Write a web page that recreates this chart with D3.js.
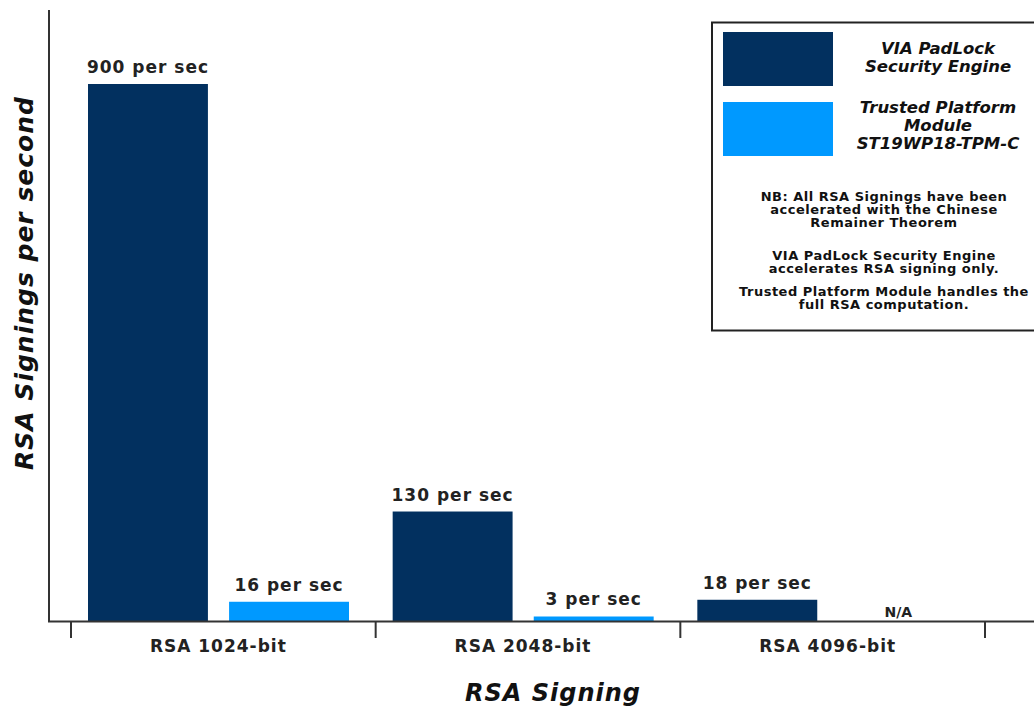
<!DOCTYPE html>
<html>
<head>
<meta charset="utf-8">
<script src="https://cdn.jsdelivr.net/npm/d3@7"></script>
<style>
  html, body { margin: 0; padding: 0; background: #fff; overflow: hidden; }
  svg { display: block; }
  text { font-family: "DejaVu Sans", Verdana, sans-serif; }
</style>
</head>
<body>
<svg id="chart" width="1034" height="706"></svg>
<script>
// ---- data ----
const categories = ["RSA 1024-bit", "RSA 2048-bit", "RSA 4096-bit"];
const seriesNames = ["VIA PadLock Security Engine", "Trusted Platform Module ST19WP18-TPM-C"];
const viaValues = [900, 130, 18];
const tpmValues = [16, 3, null];
const valueLabels = [["900 per sec", "16 per sec"], ["130 per sec", "3 per sec"], ["18 per sec", "N/A"]];
const legendLines = [["VIA PadLock", "Security Engine"], ["Trusted Platform", "Module", "ST19WP18-TPM-C"]];
const noteLines = [
  ["NB: All RSA Signings have been", "accelerated with the Chinese", "Remainer Theorem"],
  ["VIA PadLock Security Engine", "accelerates RSA signing only."],
  ["Trusted Platform Module handles the", "full RSA computation."]
];
const xTitle = "RSA Signing";
const yTitle = "RSA Signings per second";
const colors = ["#02305f", "#0099ff"];

// ---- layout ----
const svg = d3.select("#chart");
const baseY = 621.5, axisX = 49;

const x0 = d3.scaleBand().domain(categories).range([71, 985]).padding(0);
const x1 = d3.scaleBand().domain(seriesNames).range([17, 278])
  .paddingInner(0.15).paddingOuter(0);
const y = d3.scalePow().exponent(0.82).domain([0, 900]).range([baseY, 84]);

const rows = categories.map((c, i) => ({
  cat: c,
  items: [
    { s: seriesNames[0], v: viaValues[i], label: valueLabels[i][0], color: colors[0] },
    { s: seriesNames[1], v: tpmValues[i], label: valueLabels[i][1], color: colors[1] }
  ]
}));

const g = svg.selectAll("g.grp").data(rows).join("g")
  .attr("class", "grp")
  .attr("transform", d => `translate(${x0(d.cat)},0)`);

g.selectAll("rect").data(d => d.items.filter(e => e.v != null)).join("rect")
  .attr("x", d => x1(d.s))
  .attr("width", x1.bandwidth())
  .attr("y", d => y(d.v))
  .attr("height", d => baseY - y(d.v))
  .attr("fill", d => d.color);

g.selectAll("text.val").data(d => d.items).join("text")
  .attr("class", "val")
  .attr("x", d => x1(d.s) + x1.bandwidth() / 2)
  .attr("y", d => d.v != null ? y(d.v) - 11 : baseY - 5)
  .attr("text-anchor", "middle")
  .attr("font-weight", "bold")
  .attr("font-size", d => d.v != null ? 17 : 14)
  .attr("letter-spacing", d => d.v != null ? 1 : 0)
  .attr("fill", "#222")
  .text(d => d.label);

// axes
const axisColor = "#333";
svg.append("line").attr("x1", axisX).attr("x2", axisX).attr("y1", 10).attr("y2", baseY)
  .attr("stroke", axisColor).attr("stroke-width", 2);
svg.append("line").attr("x1", axisX - 1).attr("x2", 1034).attr("y1", baseY).attr("y2", baseY)
  .attr("stroke", axisColor).attr("stroke-width", 2);

const tickPos = categories.map(c => x0(c)).concat([x0(categories[categories.length - 1]) + x0.bandwidth()]);
svg.selectAll("line.tick").data(tickPos).join("line")
  .attr("class", "tick")
  .attr("x1", d => d).attr("x2", d => d)
  .attr("y1", baseY).attr("y2", 638)
  .attr("stroke", axisColor).attr("stroke-width", 2);

svg.selectAll("text.cat").data(categories).join("text")
  .attr("class", "cat")
  .attr("x", d => x0(d) + x0.bandwidth() / 2 - 5)
  .attr("y", 652)
  .attr("text-anchor", "middle")
  .attr("font-weight", "bold")
  .attr("font-size", 17)
  .attr("letter-spacing", 1)
  .attr("fill", "#222")
  .text(d => d);

svg.append("text")
  .attr("x", 553).attr("y", 701)
  .attr("text-anchor", "middle")
  .attr("font-weight", "bold").attr("font-style", "italic")
  .attr("font-size", 24).attr("letter-spacing", 1)
  .attr("fill", "#111")
  .text(xTitle);

svg.append("text")
  .attr("transform", "translate(33,283) rotate(-90)")
  .attr("text-anchor", "middle")
  .attr("font-weight", "bold").attr("font-style", "italic")
  .attr("font-size", 25).attr("letter-spacing", 1)
  .attr("fill", "#111")
  .text(yTitle);

// legend
const lg = svg.append("g");
lg.append("rect").attr("x", 712).attr("y", 22.5).attr("width", 340).attr("height", 308)
  .attr("fill", "#fff").attr("stroke", "#222").attr("stroke-width", 2);

const swY = [32, 102];
const swH = [54, 54];
lg.selectAll("rect.sw").data(seriesNames).join("rect")
  .attr("class", "sw")
  .attr("x", 723).attr("width", 110)
  .attr("y", (d, i) => swY[i]).attr("height", (d, i) => swH[i])
  .attr("fill", (d, i) => colors[i]);

const legTextY = [[54, 72], [113, 131, 149]];
legendLines.forEach((lines, i) => {
  lg.selectAll(null).data(lines).join("text")
    .attr("x", 938)
    .attr("y", (d, j) => legTextY[i][j])
    .attr("text-anchor", "middle")
    .attr("font-weight", "bold").attr("font-style", "italic")
    .attr("font-size", 16.5)
    .attr("fill", "#111")
    .text(d => d);
});

const noteY = [[201, 214, 227], [260, 273], [296, 309]];
noteLines.forEach((lines, i) => {
  lg.selectAll(null).data(lines).join("text")
    .attr("x", 884)
    .attr("y", (d, j) => noteY[i][j])
    .attr("text-anchor", "middle")
    .attr("font-weight", "bold")
    .attr("font-size", 13)
    .attr("letter-spacing", 0.5)
    .attr("fill", "#111")
    .text(d => d);
});
</script>
</body>
</html>
